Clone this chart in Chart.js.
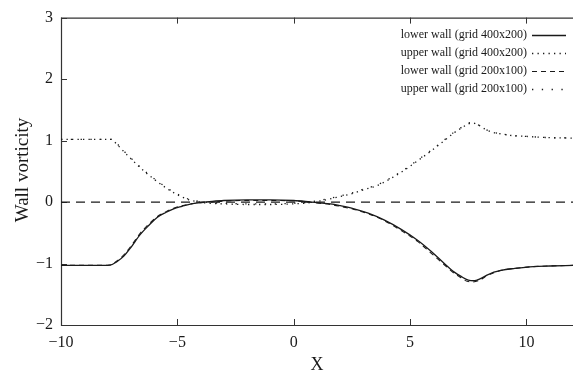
<!DOCTYPE html>
<html>
<head>
<meta charset="utf-8">
<script src="https://cdn.jsdelivr.net/npm/chart.js@4.4.1/dist/chart.umd.min.js"></script>
<style>
  html, body { margin: 0; padding: 0; background: #fff; }
  #wrap { width: 573px; height: 373px; }
</style>
</head>
<body>
<div id="wrap"><canvas id="c" width="573" height="373"></canvas></div>
<script>
// Wall vorticity along the channel, two grid resolutions
const lowerFineX = [-10, -9, -8.2, -7.89, -7.6, -7.3, -7.0, -6.6, -6.2, -5.87, -5.5, -5.16, -4.8, -4.4, -4.0, -3.5, -3.0, -2.0, -1.0, 0.0, 0.5, 1.0, 1.58, 2.0, 2.59, 3.2, 3.88, 4.6, 5.32, 5.9, 6.47, 6.9, 7.19, 7.5, 7.76, 8.0, 8.3, 8.6, 8.91, 9.5, 10.3, 11.0, 12.0];
const lowerFineY = [-1.03, -1.03, -1.03, -1.025, -0.97, -0.88, -0.74, -0.53, -0.37, -0.25, -0.17, -0.11, -0.07, -0.03, -0.01, 0.01, 0.025, 0.035, 0.035, 0.025, 0.01, -0.01, -0.03, -0.06, -0.11, -0.18, -0.29, -0.44, -0.62, -0.80, -1.0, -1.14, -1.21, -1.27, -1.28, -1.25, -1.19, -1.14, -1.11, -1.08, -1.05, -1.04, -1.03];

const upperFineX = [-10, -9, -8.2, -7.85, -7.6, -7.25, -6.9, -6.6, -6.3, -5.96, -5.6, -5.24, -4.9, -4.53, -4.2, -3.9, -3.0, -2.0, -1.0, 0.0, 0.7, 1.0, 1.44, 2.0, 2.44, 3.0, 3.6, 4.2, 4.8, 5.32, 5.9, 6.47, 6.9, 7.19, 7.5, 7.7, 7.9, 8.2, 8.5, 8.9, 9.4, 9.9, 10.8, 12.0];
const upperFineY = [1.02, 1.02, 1.02, 1.02, 0.94, 0.80, 0.67, 0.56, 0.46, 0.36, 0.26, 0.17, 0.10, 0.04, 0.01, -0.01, -0.03, -0.04, -0.04, -0.03, -0.01, 0.01, 0.04, 0.09, 0.13, 0.20, 0.27, 0.39, 0.53, 0.67, 0.83, 1.0, 1.13, 1.20, 1.27, 1.285, 1.26, 1.19, 1.14, 1.11, 1.08, 1.07, 1.05, 1.04];

const lowerCoarseX = [-10, -9, -8.2, -7.92, -7.6, -7.3, -7.0, -6.6, -6.2, -5.87, -5.5, -5.16, -4.8, -4.4, -4.0, -3.5, -3.0, -2.0, -1.0, 0.0, 0.5, 1.0, 1.58, 2.0, 2.59, 3.2, 3.88, 4.6, 5.32, 5.9, 6.47, 6.9, 7.19, 7.45, 7.7, 8.0, 8.3, 8.6, 8.91, 9.5, 10.3, 11.0, 12.0];
const lowerCoarseY = [-1.03, -1.03, -1.03, -1.025, -0.96, -0.86, -0.72, -0.51, -0.35, -0.24, -0.16, -0.10, -0.06, -0.03, -0.01, 0.0, 0.015, 0.025, 0.025, 0.02, 0.005, -0.015, -0.04, -0.07, -0.12, -0.19, -0.30, -0.46, -0.64, -0.83, -1.02, -1.16, -1.23, -1.29, -1.30, -1.27, -1.20, -1.15, -1.11, -1.08, -1.05, -1.04, -1.03];

const upperCoarseX = [-10, -9, -8.2, -7.85, -7.6, -7.25, -6.9, -6.6, -6.3, -5.96, -5.6, -5.24, -4.9, -4.53, -4.2, -3.9, -3.0, -2.0, -1.0, 0.0, 0.7, 1.0, 1.44, 2.0, 2.44, 3.0, 3.6, 4.2, 4.8, 5.32, 5.9, 6.47, 6.9, 7.19, 7.45, 7.65, 7.9, 8.2, 8.5, 8.9, 9.4, 9.9, 10.8, 12.0];
const upperCoarseY = [1.02, 1.02, 1.02, 1.02, 0.95, 0.81, 0.68, 0.57, 0.47, 0.37, 0.27, 0.18, 0.11, 0.05, 0.02, 0.0, -0.02, -0.03, -0.03, -0.02, 0.0, 0.02, 0.05, 0.10, 0.14, 0.21, 0.28, 0.40, 0.54, 0.68, 0.84, 1.01, 1.14, 1.21, 1.28, 1.29, 1.26, 1.19, 1.14, 1.11, 1.08, 1.07, 1.05, 1.04];

// reference line at zero vorticity
const zeroLineX = [-10, 12];
const zeroLineY = [0, 0];

const seriesLabels = ['lower wall (grid 400x200)', 'upper wall (grid 400x200)', 'lower wall (grid 200x100)', 'upper wall (grid 200x100)'];
const xTickValues = [-10, -5, 0, 5, 10];
const yTickValues = [-2, -1, 0, 1, 2, 3];
const xTitle = 'X';
const yTitle = 'Wall vorticity';

const SERIF = '"Liberation Serif", "Times New Roman", serif';
const INK = '#1a1a1a';

function pts(xs, ys) { return xs.map((x, i) => ({ x: x, y: ys[i] })); }
function fmt(v) { return v < 0 ? '\u2212' + Math.abs(v) : String(v); }

const datasets = [
  { label: seriesLabels[0], data: pts(lowerFineX, lowerFineY), borderColor: INK, borderWidth: 1.3, borderDash: [] },
  { label: seriesLabels[1], data: pts(upperFineX, upperFineY), borderColor: INK, borderWidth: 1.3, borderDash: [1.3, 4.2] },
  { label: seriesLabels[2], data: pts(lowerCoarseX, lowerCoarseY), borderColor: INK, borderWidth: 1.1, borderDash: [5, 4] },
  { label: seriesLabels[3], data: pts(upperCoarseX, upperCoarseY), borderColor: INK, borderWidth: 1.3, borderDash: [1.3, 8.5] },
  { label: '', data: pts(zeroLineX, zeroLineY), borderColor: INK, borderWidth: 1.2, borderDash: [9, 6], inLegend: false }
].map(d => Object.assign({ showLine: true, pointRadius: 0, fill: false, tension: 0, cubicInterpolationMode: 'monotone' }, d));

// frame, inward ticks, axis titles and legend
const framePlugin = {
  id: 'frame',
  beforeDatasetsDraw(chart) {
    const { ctx, chartArea: a, scales } = chart;
    ctx.save();
    ctx.strokeStyle = '#333';
    ctx.lineWidth = 1.2;
    ctx.beginPath();
    ctx.moveTo(a.right, a.top + 0.5);
    ctx.lineTo(a.left + 0.5, a.top + 0.5);
    ctx.lineTo(a.left + 0.5, a.bottom + 0.5);
    ctx.lineTo(a.right, a.bottom + 0.5);
    ctx.stroke();
    const tl = 6;
    ctx.lineWidth = 1;
    ctx.beginPath();
    xTickValues.forEach(v => {
      const px = Math.round(scales.x.getPixelForValue(v)) + 0.5;
      ctx.moveTo(px, a.bottom); ctx.lineTo(px, a.bottom - tl);
      ctx.moveTo(px, a.top); ctx.lineTo(px, a.top + tl);
    });
    yTickValues.forEach(v => {
      const py = Math.round(scales.y.getPixelForValue(v)) + 0.5;
      ctx.moveTo(a.left, py); ctx.lineTo(a.left + tl, py);
    });
    ctx.stroke();
    ctx.restore();
  },
  afterDraw(chart) {
    const { ctx, chartArea: a } = chart;
    ctx.save();
    ctx.fillStyle = INK;
    ctx.font = '18px ' + SERIF;
    ctx.textAlign = 'center';
    ctx.textBaseline = 'middle';
    ctx.fillText(xTitle, (a.left + a.right) / 2, 365);
    ctx.font = '19px ' + SERIF;
    ctx.translate(23, 170);
    ctx.rotate(-Math.PI / 2);
    ctx.fillText(yTitle, 0, 0);
    ctx.restore();

    ctx.save();
    ctx.font = '12px ' + SERIF;
    ctx.textAlign = 'right';
    ctx.textBaseline = 'middle';
    chart.data.datasets.filter(d => d.inLegend !== false).forEach((d, i) => {
      const y = 35 + 18 * i;
      ctx.fillStyle = INK;
      ctx.fillText(d.label, 527, y);
      ctx.strokeStyle = d.borderColor;
      ctx.lineWidth = d.borderWidth;
      ctx.setLineDash(d.borderDash);
      ctx.beginPath();
      ctx.moveTo(532, y + 0.5);
      ctx.lineTo(566, y + 0.5);
      ctx.stroke();
    });
    ctx.restore();
  }
};

new Chart(document.getElementById('c'), {
  type: 'scatter',
  data: { datasets: datasets },
  plugins: [framePlugin],
  options: {
    responsive: false,
    animation: false,
    layout: { padding: { top: 17, right: 0, left: 0, bottom: 0 } },
    plugins: { legend: { display: false }, tooltip: { enabled: false } },
    scales: {
      x: {
        type: 'linear', min: -10, max: 12,
        afterBuildTicks: s => { s.ticks = xTickValues.map(v => ({ value: v })); },
        afterFit: s => { s.height = 48; },
        grid: { display: false, drawTicks: false },
        border: { display: false },
        ticks: { padding: 8, color: INK, font: { family: SERIF, size: 16 }, callback: v => fmt(v), maxRotation: 0 }
      },
      y: {
        type: 'linear', min: -2, max: 3,
        afterBuildTicks: s => { s.ticks = yTickValues.map(v => ({ value: v })); },
        afterFit: s => { s.width = 61; },
        grid: { display: false, drawTicks: false },
        border: { display: false },
        ticks: { padding: 8, color: INK, font: { family: SERIF, size: 16 }, callback: v => fmt(v) }
      }
    }
  }
});
</script>
</body>
</html>
